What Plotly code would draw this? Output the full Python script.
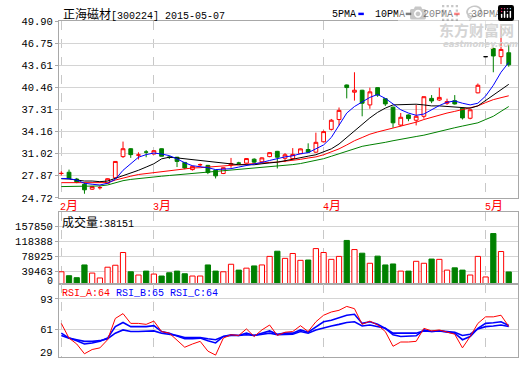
import plotly.graph_objects as go

# ---------------- data ----------------
idx = list(range(59))
month_labels = ["2月", "3月", "4月", "5月"]
month_pos = [0, 12, 34, 55]

opens = [28.18, 28.36, 27.39, 26.65, 25.95, 26.15, 26.79, 27.57, 30.59, 31.71,
         30.80, 31.24, 30.96, 31.71, 30.50, 30.50, 29.76, 28.74, 29.42, 29.34,
         28.64, 28.18, 29.40, 29.67, 29.66, 30.22, 29.85, 30.59, 31.34, 30.35,
         30.30, 31.00, 31.60, 31.22, 32.70, 34.47, 35.87, 40.79, 39.76, 40.04,
         37.95, 40.41, 38.84, 37.63, 35.08, 36.52, 35.77, 36.33, 38.88, 38.65,
         38.19, 38.56, 37.49, 36.05, 39.67, 44.82, 45.99, 44.82, 45.38]
highs = [28.50, 28.74, 27.55, 26.88, 26.40, 26.45, 27.50, 29.95, 32.73, 31.80,
         31.20, 31.52, 31.50, 31.75, 30.70, 30.55, 29.80, 29.30, 29.60, 29.40,
         28.70, 29.05, 30.40, 29.85, 30.35, 30.35, 30.50, 31.20, 31.40, 31.10,
         31.80, 31.75, 32.48, 34.00, 34.30, 35.95, 37.58, 40.85, 42.60, 40.10,
         40.41, 40.45, 38.90, 37.70, 36.80, 36.60, 37.95, 39.15, 39.35, 40.41,
         38.84, 39.35, 37.55, 37.30, 41.00, 44.82, 46.10, 49.19, 46.54]
lows = [27.90, 27.40, 26.80, 25.30, 25.85, 25.90, 26.70, 27.50, 30.40, 30.41,
        30.18, 30.50, 30.90, 30.64, 30.25, 29.10, 28.80, 28.60, 29.20, 28.09,
        27.48, 28.10, 29.00, 29.50, 29.60, 29.70, 29.80, 30.50, 28.90, 29.80,
        30.20, 30.95, 31.10, 31.10, 32.60, 34.30, 35.03, 38.88, 38.56, 36.33,
        37.40, 39.10, 37.80, 34.70, 34.90, 35.63, 35.03, 36.00, 38.20, 38.50,
        37.95, 38.00, 35.87, 35.90, 39.60, 44.82, 42.60, 43.76, 43.39]
closes = [28.20, 27.48, 26.95, 25.86, 26.32, 26.18, 27.44, 29.90, 31.71, 30.87,
          30.82, 31.23, 31.43, 30.64, 30.49, 29.90, 28.97, 29.20, 29.44, 28.32,
          27.85, 29.01, 29.60, 29.66, 30.31, 29.80, 30.41, 31.15, 30.50, 30.85,
          30.90, 31.69, 31.22, 32.62, 34.15, 35.77, 37.17, 40.42, 40.04, 38.19,
          39.81, 39.35, 38.09, 35.40, 36.19, 36.00, 36.33, 39.12, 38.51, 39.02,
          38.42, 38.09, 36.10, 37.26, 40.75, 44.82, 44.92, 45.85, 43.66]

ma5 = [27.48, 27.44, 27.25, 26.79, 26.65, 26.55, 26.79, 27.34, 28.64, 29.57,
       30.50, 30.87, 31.10, 30.96, 30.73, 30.27, 29.71, 29.29, 29.20, 29.01,
       28.74, 28.78, 28.87, 29.10, 29.29, 29.52, 29.76, 30.04, 30.31, 30.55,
       30.70, 31.00, 31.15, 31.69, 32.25, 33.31, 35.03, 36.79, 37.72, 38.42,
       39.02, 39.44, 38.88, 38.09, 37.26, 36.79, 36.47, 36.65, 37.26, 37.86,
       38.33, 38.51, 38.19, 37.95, 38.19, 39.21, 40.74, 42.60, 43.99]
ma10 = [27.44, 27.40, 27.25, 27.11, 27.11, 27.02, 27.11, 27.48, 27.85, 28.18,
        28.64, 29.10, 29.57, 30.27, 30.50, 30.40, 30.27, 30.13, 30.04, 29.90,
        29.76, 29.62, 29.52, 29.43, 29.43, 29.43, 29.57, 29.66, 29.80, 30.00,
        30.25, 30.50, 30.65, 30.85, 31.22, 31.69, 32.38, 33.31, 34.24, 35.17,
        36.10, 36.89, 37.49, 37.95, 38.00, 38.05, 38.05, 37.95, 37.81, 37.81,
        37.72, 37.58, 37.49, 37.49, 37.81, 38.56, 39.35, 40.14, 40.88]
ma20 = [26.88, 26.88, 26.88, 26.79, 26.79, 26.79, 26.88, 27.25, 27.57, 27.80,
        28.04, 28.18, 28.32, 28.50, 28.64, 28.78, 28.87, 28.97, 29.01, 29.10,
        29.20, 29.29, 29.34, 29.38, 29.48, 29.57, 29.66, 29.76, 29.80, 29.90,
        30.05, 30.20, 30.39, 30.55, 30.85, 31.22, 31.69, 32.25, 32.85, 33.31,
        33.78, 34.10, 34.38, 34.70, 34.94, 35.17, 35.49, 35.87, 36.19, 36.56,
        36.79, 37.03, 37.26, 37.49, 37.81, 38.28, 38.70, 38.98, 39.25]
ma30 = [26.32, 26.32, 26.32, 26.32, 26.32, 26.41, 26.55, 26.88, 27.16, 27.34,
        27.48, 27.62, 27.71, 27.80, 27.90, 27.99, 28.09, 28.18, 28.27, 28.36,
        28.46, 28.55, 28.64, 28.74, 28.83, 28.92, 29.01, 29.10, 29.20, 29.30,
        29.45, 29.60, 29.83, 30.06, 30.29, 30.64, 30.99, 31.34, 31.69, 32.05,
        32.25, 32.40, 32.62, 32.85, 33.08, 33.27, 33.45, 33.64, 33.92, 34.24,
        34.47, 34.70, 34.94, 35.13, 35.40, 35.87, 36.33, 37.03, 37.72]

volumes = [38600, 28200, 23000, 56700, 35200, 22200, 50700, 55900, 89600, 38600,
           30000, 40400, 32600, 27400, 36000, 40400, 33400, 27400, 27400, 56700,
           40400, 38600, 58500, 43000, 48200, 54100, 56700, 79300, 93000, 74100,
           87000, 68900, 69700, 100000, 89600, 71500, 79300, 121500, 97400, 87800,
           61100, 80000, 56700, 59300, 40400, 40400, 66300, 61100, 72300, 71500,
           43000, 49000, 43000, 30000, 79300, 24900, 139700, 92200, 38151]

rsi_a = [67.2, 51.7, 45.5, 35.2, 39.7, 41.4, 50.0, 72.4, 77.5, 67.2,
         67.2, 66.2, 69.6, 58.6, 56.9, 50.0, 42.1, 45.5, 48.3, 38.0,
         33.8, 51.7, 55.2, 54.5, 61.4, 53.4, 60.3, 65.5, 54.5, 57.9,
         58.6, 64.8, 58.6, 68.9, 75.8, 79.2, 81.0, 85.1, 82.7, 66.2,
         69.6, 65.5, 58.6, 43.1, 47.6, 47.6, 48.3, 62.0, 59.3, 60.3,
         57.9, 55.8, 41.4, 53.4, 67.2, 74.1, 74.1, 75.8, 64.0]
rsi_b = [56.9, 51.7, 49.0, 45.5, 46.6, 48.3, 51.7, 63.8, 68.2, 63.8,
         63.8, 63.8, 64.8, 58.6, 56.9, 54.1, 51.0, 51.0, 51.7, 49.0,
         46.6, 53.4, 55.2, 54.5, 56.9, 54.5, 56.9, 59.3, 55.8, 56.9,
         56.9, 60.3, 57.9, 63.8, 68.9, 70.6, 73.0, 75.8, 76.8, 67.2,
         68.9, 66.2, 62.0, 55.2, 53.4, 53.4, 54.1, 60.3, 58.6, 59.3,
         57.9, 56.9, 50.0, 53.4, 62.0, 67.2, 67.9, 68.9, 65.0]
rsi_c = [54.5, 51.7, 50.0, 48.3, 48.3, 49.0, 51.0, 56.9, 60.3, 58.6,
         58.6, 58.6, 59.3, 56.9, 55.8, 54.5, 52.4, 52.4, 52.4, 51.0,
         50.0, 53.4, 54.5, 54.5, 55.2, 54.5, 55.8, 56.9, 55.2, 55.8,
         55.8, 58.6, 56.9, 60.3, 62.7, 64.5, 66.2, 68.2, 68.9, 64.5,
         65.5, 63.8, 62.0, 56.9, 56.9, 56.9, 56.9, 59.3, 58.6, 59.3,
         58.6, 57.9, 54.5, 55.8, 61.4, 63.8, 64.5, 65.5, 64.0]

price_ticks = [24.72, 27.87, 31.02, 34.16, 37.31, 40.46, 43.61, 46.75, 49.90]
vol_ticks = [39463, 78925, 118388, 157850]
rsi_ticks = [61, 93]

# ---------------- styling ----------------
RED, GREEN, BLUE, BLACK = "#ff0000", "#008000", "#0000ff", "#000000"
FRAME, GRID, VGRID = "#a8a8a8", "#d4d4d4", "#c8c8c8"
MONO = "Liberation Mono"
CJK = "Noto Sans CJK SC"
W, H = 520, 365
ML, MR, MT, MB = 59, 1, 21, 1


def px(x):
    return (x - ML) / (W - ML - MR)


def py(y):
    return (H - MB - y) / (H - MT - MB)


fig = go.Figure()

flat = [i for i in idx if opens[i] == highs[i] == lows[i] == closes[i]]
main = [i for i in idx if i not in flat]

fig.add_trace(go.Candlestick(
    x=main, open=[opens[i] for i in main], high=[highs[i] for i in main],
    low=[lows[i] for i in main], close=[closes[i] for i in main],
    increasing=dict(line=dict(color=RED, width=1), fillcolor="white"),
    decreasing=dict(line=dict(color=GREEN, width=1), fillcolor=GREEN),
    whiskerwidth=0, showlegend=False, hoverinfo="skip", xaxis="x", yaxis="y"))
fig.add_trace(go.Candlestick(
    x=flat, open=[opens[i] for i in flat], high=[highs[i] for i in flat],
    low=[lows[i] for i in flat], close=[closes[i] for i in flat],
    increasing=dict(line=dict(color=BLACK, width=1), fillcolor=BLACK),
    decreasing=dict(line=dict(color=BLACK, width=1), fillcolor=BLACK),
    whiskerwidth=0, showlegend=False, hoverinfo="skip", xaxis="x", yaxis="y"))

for ser, col in [(ma30, GREEN), (ma20, RED), (ma10, BLACK), (ma5, BLUE)]:
    fig.add_trace(go.Scatter(x=idx, y=ser, mode="lines", line=dict(color=col, width=1),
                             showlegend=False, hoverinfo="skip", xaxis="x", yaxis="y"))

up = [closes[i] >= opens[i] for i in idx]
fig.add_trace(go.Bar(
    x=idx, y=volumes, width=0.68,
    marker=dict(color=["white" if u else GREEN for u in up],
                line=dict(color=[RED if u else GREEN for u in up], width=1)),
    showlegend=False, hoverinfo="skip", xaxis="x2", yaxis="y2"))

fig.add_trace(go.Scatter(x=idx, y=rsi_c, mode="lines", line=dict(color=BLUE, width=1.6),
                         showlegend=False, hoverinfo="skip", xaxis="x3", yaxis="y3"))
fig.add_trace(go.Scatter(x=idx, y=rsi_b, mode="lines", line=dict(color=BLUE, width=1.6),
                         showlegend=False, hoverinfo="skip", xaxis="x3", yaxis="y3"))
fig.add_trace(go.Scatter(x=idx, y=rsi_a, mode="lines", line=dict(color=RED, width=1),
                         showlegend=False, hoverinfo="skip", xaxis="x3", yaxis="y3"))

xcommon = dict(range=[-0.3, 59.2], showticklabels=False, tickvals=month_pos,
               showgrid=True, gridcolor=VGRID, griddash="dash", gridwidth=1,
               showline=True, mirror=True, linecolor=FRAME, linewidth=1,
               zeroline=False, ticks="", fixedrange=True)
ycommon = dict(showgrid=True, gridcolor=GRID, gridwidth=1, showline=True, mirror=True,
               linecolor=FRAME, linewidth=1, zeroline=False, ticks="outside",
               ticklen=3, tickcolor=FRAME, tickfont=dict(family=MONO, size=10.5, color=BLACK),
               fixedrange=True)

p_dom = [py(201.5), 1.0]
v_dom = [py(289), py(216)]
r_dom = [0.0, py(289)]

fig.update_layout(
    width=W, height=H, margin=dict(l=ML, r=MR, t=MT, b=MB),
    paper_bgcolor="white", plot_bgcolor="white", showlegend=False,
    xaxis=dict(xcommon, anchor="y", rangeslider=dict(visible=False)),
    xaxis2=dict(xcommon, anchor="y2", matches="x"),
    xaxis3=dict(xcommon, anchor="y3", matches="x"),
    yaxis=dict(ycommon, domain=p_dom, range=[price_ticks[0], price_ticks[-1]],
               tickvals=price_ticks, ticktext=["%.2f" % v for v in price_ticks]),
    yaxis2=dict(ycommon, domain=v_dom, range=[7517, 196730],
                tickvals=vol_ticks, ticktext=[str(v) for v in vol_ticks]),
    yaxis3=dict(ycommon, domain=r_dom, range=[31.8, 109.2],
                tickvals=rsi_ticks, ticktext=[str(v) for v in rsi_ticks]),
)

ann = []
# title
ann.append(dict(xref="paper", yref="paper", x=px(61), y=py(13.5), xanchor="left", yanchor="middle",
                showarrow=False, font=dict(family=MONO, size=10, color=BLACK),
                text='<span style="font-family:Noto Sans CJK SC;font-size:12px">正海磁材</span>[300224] 2015-05-07'))
# watermark
ann.append(dict(xref="paper", yref="paper", x=px(477), y=py(30), xanchor="center", yanchor="middle",
                showarrow=False, font=dict(family=CJK, size=15, color="#d4d4d4"), text="<b>东方财富网</b>"))
ann.append(dict(xref="paper", yref="paper", x=px(481), y=py(44), xanchor="center", yanchor="middle",
                showarrow=False, font=dict(family="DejaVu Sans", size=8.5, color="#d4d4d4"),
                text="<b><i>eastmoney.com</i></b>"))
# legend texts
for name, xs in [("5PMA", 331), ("10PMA", 374), ("20PMA", 422), ("30PMA", 470)]:
    ann.append(dict(xref="paper", yref="paper", x=px(xs), y=py(14), xanchor="left", yanchor="middle",
                    showarrow=False, font=dict(family=MONO, size=10, color=BLACK), text=name))
# month labels
for lab, pos in zip(month_labels, month_pos):
    ann.append(dict(xref="x", yref="paper", x=pos, y=py(208.5), xanchor="left", yanchor="middle",
                    xshift=-3, showarrow=False, font=dict(family=MONO, size=10, color=RED),
                    text=lab[0] + '<span style="font-family:Noto Sans CJK SC;font-size:12px">' + lab[1:] + '</span>'))
# volume header
ann.append(dict(xref="paper", yref="paper", x=px(60), y=py(225.5), xanchor="left", yanchor="middle",
                showarrow=False, font=dict(family=MONO, size=10, color=BLACK),
                text='<span style="font-family:Noto Sans CJK SC;font-size:12px">成交量</span>:%d' % volumes[-1]))
# RSI header
ann.append(dict(xref="paper", yref="paper", x=px(60), y=py(299.5), xanchor="left", yanchor="middle",
                showarrow=False, font=dict(family=MONO, size=10, color=BLACK),
                text='<span style="color:#ff0000">RSI_A:%d</span> <span style="color:#0000ff">RSI_B:%d</span> '
                     '<span style="color:#0000ff">RSI_C:%d</span>' % (round(rsi_a[-1]), round(rsi_b[-1]), round(rsi_c[-1]))))
# bottom tick labels squeezed above frame bottom
ann.append(dict(xref="paper", yref="paper", x=px(55), y=py(287), xanchor="right", yanchor="middle",
                showarrow=False, font=dict(family=MONO, size=10, color=BLACK), text="0"))
ann.append(dict(xref="paper", yref="paper", x=px(55), y=py(359.5), xanchor="right", yanchor="middle",
                showarrow=False, font=dict(family=MONO, size=10.5, color=BLACK), text="29"))

shapes = []
for x0, col in [(359, BLUE), (406.5, BLACK), (455, RED), (503.5, GREEN)]:
    shapes.append(dict(type="rect", xref="paper", yref="paper", x0=px(x0), x1=px(x0 + 5.5),
                       y0=py(15), y1=py(12.5), fillcolor=col, line=dict(width=0)))

fig.update_layout(annotations=ann, shapes=shapes)
fig.write_html("out.html",
               post_script="document.body.style.margin='0';document.body.style.padding='0';"
                           "document.body.style.overflow='hidden';")
